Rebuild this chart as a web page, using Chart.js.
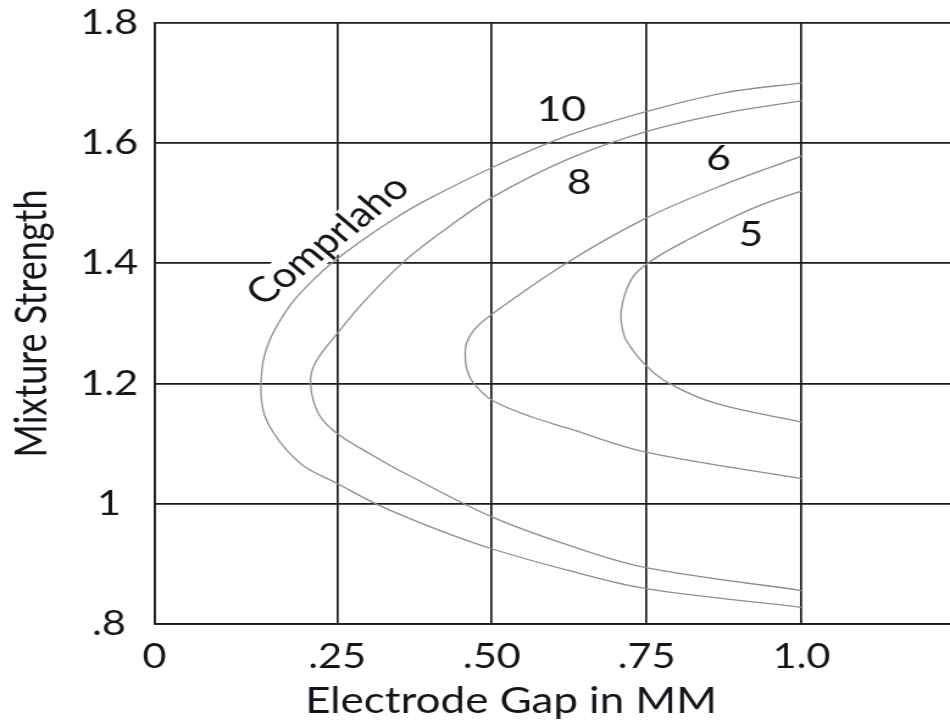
<!DOCTYPE html>
<html>
<head>
<meta charset="utf-8">
<script src="https://cdn.jsdelivr.net/npm/chart.js@4.4.0/dist/chart.umd.min.js"></script>
<style>
  html, body { margin: 0; padding: 0; background: #fff; overflow: hidden; }
</style>
</head>
<body>
<!-- the source picture is stretched sideways, so the canvas is drawn narrow and widened by css -->
<canvas id="gap-chart" width="779" height="721" style="width:950px;height:721px;"></canvas>
<script>
// axis ticks (the "0" tick sits on the left frame, which is not at a true zero)
const xTickValues = [-0.045, 0.25, 0.50, 0.75, 1.0];
const xTickLabels = ['0', '.25', '.50', '.75', '1.0'];
const yTickValues = [0.8, 1.0, 1.2, 1.4, 1.6, 1.8];
const yTickLabels = ['.8', '1', '1.2', '1.4', '1.6', '1.8'];

// curves: electrode gap (x) and mixture strength (y), top end -> nose -> bottom end
const ratio10Gap = [1.0, 0.873, 0.749, 0.617, 0.498, 0.394, 0.347, 0.290, 0.241, 0.211, 0.181, 0.158, 0.141, 0.131, 0.127, 0.128, 0.134, 0.148, 0.169, 0.199, 0.250, 0.317, 0.408, 0.501, 0.625, 0.749, 1.0];
const ratio10Mix = [1.700, 1.683, 1.652, 1.610, 1.558, 1.505, 1.477, 1.438, 1.400, 1.372, 1.339, 1.305, 1.272, 1.239, 1.200, 1.171, 1.144, 1.117, 1.089, 1.061, 1.034, 0.998, 0.959, 0.925, 0.889, 0.859, 0.828];

const ratio8Gap = [1.0, 0.873, 0.749, 0.625, 0.501, 0.427, 0.357, 0.296, 0.250, 0.215, 0.207, 0.220, 0.250, 0.307, 0.361, 0.501, 0.625, 0.749, 1.0];
const ratio8Mix = [1.670, 1.649, 1.619, 1.574, 1.510, 1.458, 1.402, 1.339, 1.283, 1.235, 1.200, 1.150, 1.117, 1.081, 1.050, 0.978, 0.931, 0.894, 0.856];

const ratio6Gap = [1.0, 0.873, 0.749, 0.620, 0.501, 0.471, 0.459, 0.457, 0.460, 0.471, 0.501, 0.566, 0.625, 0.749, 1.0];
const ratio6Mix = [1.578, 1.530, 1.475, 1.400, 1.316, 1.289, 1.267, 1.247, 1.222, 1.200, 1.172, 1.144, 1.125, 1.086, 1.042];

const ratio5Gap = [1.0, 0.932, 0.868, 0.811, 0.779, 0.749, 0.729, 0.716, 0.709, 0.709, 0.717, 0.749, 0.787, 0.862, 1.0];
const ratio5Mix = [1.520, 1.496, 1.466, 1.436, 1.418, 1.398, 1.379, 1.352, 1.322, 1.302, 1.272, 1.230, 1.200, 1.167, 1.136];

// text written on the plot
const noteTexts = ['10', '8', '6', '5'];
const noteGap = [0.612, 0.641, 0.866, 0.918];
const noteMix = [1.656, 1.534, 1.574, 1.448];
const slantText = 'Comprlaho';
const slantGap = 0.235;
const slantMix = 1.438;

const INK = '#14141c';
const GRID = '#1a1a1a';
const CURVE = '#8e8e8e';
const FONT = 'Lato, "Open Sans", sans-serif';

function toPoints(xs, ys) {
  return xs.map((v, i) => ({ x: v, y: ys[i] }));
}

function curve(xs, ys) {
  return {
    data: toPoints(xs, ys),
    showLine: true,
    borderColor: CURVE,
    borderWidth: 1.3,
    pointRadius: 0,
    tension: 0.35,
    fill: false
  };
}

const textPlugin = {
  id: 'plotText',
  beforeDatasetsDraw(chart) {
    // white patch under the slanted word, it cuts the grid lines like the original
    const { ctx, scales: { x, y } } = chart;
    ctx.save();
    ctx.translate(x.getPixelForValue(slantGap), y.getPixelForValue(slantMix));
    ctx.rotate(-44 * Math.PI / 180);
    ctx.font = `35px ${FONT}`;
    const w = ctx.measureText(slantText).width;
    ctx.fillStyle = '#fff';
    ctx.fillRect(-w / 2 - 3, -16, w + 6, 32);
    ctx.restore();
  },
  afterDatasetsDraw(chart) {
    const { ctx, scales: { x, y } } = chart;
    ctx.save();
    ctx.fillStyle = INK;
    ctx.textAlign = 'center';
    ctx.textBaseline = 'middle';
    ctx.font = `35px ${FONT}`;
    noteTexts.forEach((t, i) => {
      ctx.fillText(t, x.getPixelForValue(noteGap[i]), y.getPixelForValue(noteMix[i]));
    });

    ctx.save();
    ctx.translate(x.getPixelForValue(slantGap), y.getPixelForValue(slantMix));
    ctx.rotate(-44 * Math.PI / 180);
    ctx.font = `35px ${FONT}`;
    ctx.fillText(slantText, 0, 0);
    ctx.restore();

    // x axis title, set off-centre as in the source
    ctx.font = `36px ${FONT}`;
    ctx.textBaseline = 'alphabetic';
    ctx.fillText('Electrode Gap in MM', x.getPixelForValue(0.531), 713);
    ctx.restore();
  }
};

new Chart(document.getElementById('gap-chart'), {
  type: 'scatter',
  data: {
    datasets: [
      curve(ratio10Gap, ratio10Mix),
      curve(ratio8Gap, ratio8Mix),
      curve(ratio6Gap, ratio6Mix),
      curve(ratio5Gap, ratio5Mix)
    ]
  },
  options: {
    responsive: false,
    animation: false,
    devicePixelRatio: 1,
    layout: { padding: { top: 0, right: 0, bottom: 32, left: 0 } },
    plugins: {
      legend: { display: false },
      tooltip: { enabled: false }
    },
    scales: {
      x: {
        type: 'linear',
        min: -0.045,
        max: 1.24,
        afterBuildTicks: (s) => { s.ticks = xTickValues.map(v => ({ value: v })); },
        ticks: {
          autoSkip: false,
          maxRotation: 0,
          padding: 12,
          color: INK,
          font: { family: FONT, size: 34 },
          callback: (v, i) => xTickLabels[i]
        },
        grid: { color: GRID, lineWidth: 1.7, drawTicks: false },
        border: { color: GRID, width: 1.7 }
      },
      y: {
        min: 0.8,
        max: 1.8,
        afterBuildTicks: (s) => { s.ticks = yTickValues.map(v => ({ value: v })); },
        ticks: {
          padding: 13.5,
          crossAlign: 'center',
          color: INK,
          // small line height only trims the room kept above the top label
          font: { family: FONT, size: 34, lineHeight: 0.54 },
          callback: (v, i) => yTickLabels[i]
        },
        grid: { color: GRID, lineWidth: 1.7, drawTicks: false },
        border: { color: GRID, width: 1.7 },
        title: {
          display: true,
          text: 'Mixture Strength',
          color: INK,
          font: { family: FONT, size: 36 },
          padding: { top: 5, bottom: 4 }
        }
      }
    }
  },
  plugins: [textPlugin]
});
</script>
</body>
</html>
